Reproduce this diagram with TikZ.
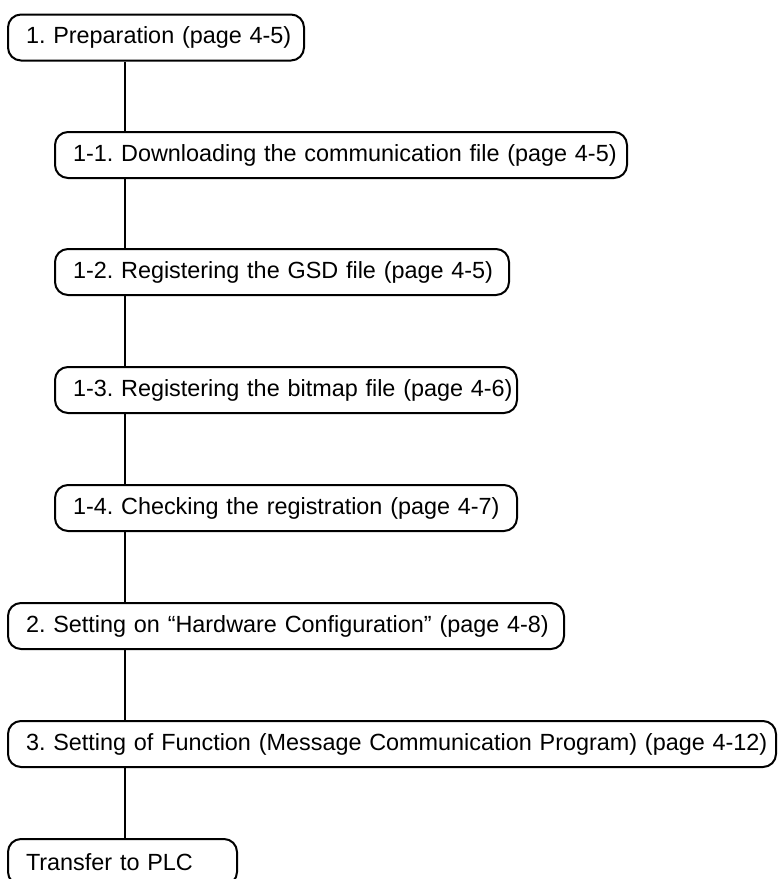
\documentclass[tikz,border=0pt]{standalone}
\usepackage{fontspec}
\setmainfont{Liberation Sans}

\begin{document}
\begin{tikzpicture}[
    x=0.5pt, y=-0.5pt,
    stage/.style={draw, rounded corners=6.5pt, line width=1pt, anchor=west,
        minimum height=23pt, inner xsep=9pt, align=left,
        font=\fontsize{11.7}{14}\selectfont\frenchspacing,
        execute at begin node=\hbox\bgroup, execute at end node=\egroup},
    link/.style={line width=0.9pt}
]
\useasboundingbox (0,0) rectangle (780,879);
\clip (0,0) rectangle (780,879);

% ---- Vertical spine shared by all connectors ----
\coordinate (spine) at (125,0);

% ---- Preparation and its sub-steps ----
\node[stage, text width=130pt] (prep) at (7,37.5)  {1. Preparation (page 4-5)};
\node[stage, text width=268pt] (dl)   at (54,155)  {1-1. Downloading the communication file (page 4-5)};
\node[stage, text width=209pt] (gsd)  at (54,272)  {1-2. Registering the GSD file (page 4-5)};
\node[stage, text width=213pt] (bmp)  at (54,390)  {1-3. Registering the bitmap file (page 4-6)};
\node[stage, text width=213pt] (chk)  at (54,508)  {1-4. Checking the registration (page 4-7)};

% ---- Remaining steps ----
\node[stage, text width=260pt] (hw)   at (7,626) {2. Setting on “Hardware Configuration” (page 4-8)};
\node[stage, text width=366pt] (fn)   at (7,744)
    {3. Setting of Function (Message Communication Program) (page 4-12)};
\node[stage, text width=96.5pt] (plc) at (7,862) {Transfer to PLC};

% ---- Connectors ----
\draw[link] (prep.south -| spine) -- (dl.north -| spine);
\draw[link] (dl.south -| spine)   -- (gsd.north -| spine);
\draw[link] (gsd.south -| spine)  -- (bmp.north -| spine);
\draw[link] (bmp.south -| spine)  -- (chk.north -| spine);
\draw[link] (chk.south -| spine)  -- (hw.north -| spine);
\draw[link] (hw.south -| spine)   -- (fn.north -| spine);
\draw[link] (fn.south -| spine)   -- (plc.north -| spine);

\end{tikzpicture}
\end{document}
